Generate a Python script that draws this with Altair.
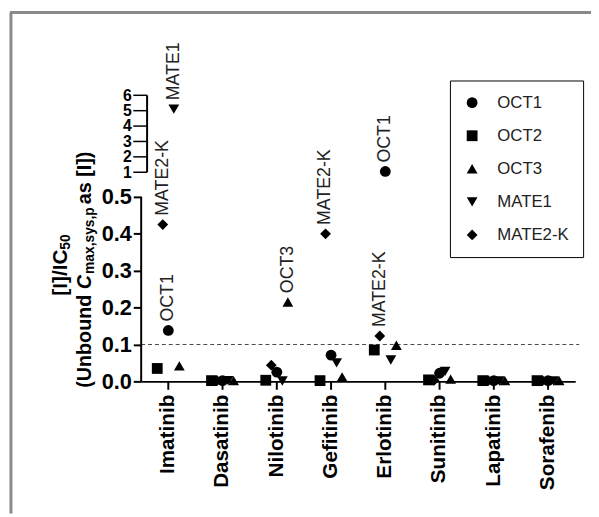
import altair as alt
import pandas as pd

# ---------------- data ----------------
drugs = ["Imatinib", "Dasatinib", "Nilotinib", "Gefitinib", "Erlotinib",
         "Sunitinib", "Lapatinib", "Sorafenib"]
series = ["OCT1", "OCT2", "OCT3", "MATE1", "MATE2-K"]
oct1 = [0.138, 0.002, 0.025, 0.071, 1.05, 0.022, 0.002, 0.002]
oct2 = [0.035, 0.002, 0.003, 0.002, 0.085, 0.004, 0.002, 0.002]
oct3 = [0.042, 0.002, 0.215, 0.012, 0.098, 0.006, 0.002, 0.002]
mate1 = [5.1, 0.002, 0.001, 0.050, 0.058, 0.027, 0.001, 0.001]
mate2k = [0.425, 0.002, 0.044, 0.400, 0.123, 0.003, 0.002, 0.002]
ann_drug = ["Imatinib", "Imatinib", "Imatinib", "Nilotinib", "Gefitinib", "Erlotinib", "Erlotinib"]
ann_series = ["MATE1", "MATE2-K", "OCT1", "OCT3", "MATE2-K", "OCT1", "MATE2-K"]
y_ticks = [0, 0.1, 0.2, 0.3, 0.4, 0.5, 1, 2, 3, 4, 5, 6]
upper_ticks = [1, 2, 3, 4, 5, 6]
threshold = [0.1]

rows = []
for s, vals in zip(series, [oct1, oct2, oct3, mate1, mate2k]):
    for d, v in zip(drugs, vals):
        rows.append({"drug": d, "series": s, "value": v})
df = pd.DataFrame(rows)
ann = df.merge(pd.DataFrame({"drug": ann_drug, "series": ann_series}), on=["drug", "series"])

# ---------------- layout ----------------
W, H = 440, 290
FONT = "Liberation Sans"
x_scale = alt.Scale(domain=drugs, paddingInner=0.4909, paddingOuter=0.24545)
xoff_scale = alt.Scale(domain=["OCT2", "MATE2-K", "OCT1", "MATE1", "OCT3"])
y_scale = alt.Scale(domain=[0, 0.5, 1, 6], range=[H, 103, 78, 0], nice=False, zero=False)

x_axis = alt.Axis(title=None, labelAngle=270, labelAlign="right", labelBaseline="middle",
                  labelFontSize=21, labelFontWeight="bold", labelFont=FONT, labelColor="black",
                  labelPadding=5, tickSize=8, tickWidth=2, tickColor="black",
                  domainWidth=2, domainColor="black", grid=False, labelOverlap=False)
y_axis = alt.Axis(title=None, values=y_ticks, domain=False, grid=False, labelOverlap=False,
                  labelExpr="datum.value >= 1 ? format(datum.value, 'd') : format(datum.value, '.1f')",
                  labelFontSize={"condition": {"test": "datum.value >= 1", "value": 16}, "value": 22},
                  labelFontWeight="bold", labelFont=FONT, labelColor="black", labelPadding=2,
                  tickSize=8, tickWidth=2, tickColor="black",
                  tickOpacity={"condition": {"test": "datum.value >= 1", "value": 0}, "value": 1})

X = alt.X("drug:N", scale=x_scale, axis=x_axis)
XO = alt.XOffset("series:N", scale=xoff_scale)
Y = alt.Y("value:Q", scale=y_scale, axis=y_axis)

points = alt.Chart(df).mark_point(filled=True, size=120, opacity=1, color="black").encode(
    x=X, xOffset=XO, y=Y,
    shape=alt.Shape("series:N",
                    scale=alt.Scale(domain=series,
                                    range=["circle", "square", "triangle-up", "triangle-down", "diamond"]),
                    legend=alt.Legend(title=None, orient="none", legendX=313, legendY=-15,
                                      strokeColor="black", fillColor="white", padding=14,
                                      rowPadding=15.5, labelFontSize=17, labelFont=FONT,
                                      labelColor="#222", labelOffset=17, symbolSize=120,
                                      symbolFillColor="black", symbolStrokeColor="black",
                                      symbolStrokeWidth=0))
)

labels = alt.Chart(ann).mark_text(angle=270, align="left", baseline="middle", dx=9,
                                   fontSize=18, font=FONT, color="#222").encode(
    x=X, xOffset=XO, y=Y, text="series:N")

dash = alt.Chart(pd.DataFrame({"value": threshold})).mark_rule(
    strokeDash=[4, 3], color="#444", strokeWidth=1).encode(
    y=Y, x=alt.value(0), x2=alt.value(W + 4))

low_seg = alt.Chart(pd.DataFrame({"value": [0], "value2": [0.5]})).mark_rule(
    color="black", strokeWidth=2).encode(y=Y, y2="value2:Q", x=alt.value(0))
up_seg = alt.Chart(pd.DataFrame({"value": [1], "value2": [6]})).mark_rule(
    color="black", strokeWidth=2).encode(y=Y, y2="value2:Q", x=alt.value(6))
up_ticks = alt.Chart(pd.DataFrame({"value": upper_ticks})).mark_rule(
    color="black", strokeWidth=1.5).encode(y=Y, x=alt.value(-8), x2=alt.value(6))

# frame lines of the figure
one = pd.DataFrame({"a": [0]})
frame_v = alt.Chart(one).mark_rule(color="#8a8a8a", strokeWidth=3).encode(
    x=alt.value(-132), y=alt.value(-84), y2=alt.value(424))
frame_h = alt.Chart(one).mark_rule(color="#8a8a8a", strokeWidth=3).encode(
    x=alt.value(-133), x2=alt.value(456), y=alt.value(-84))

# y-axis title with sub-scripts built from text runs (Arial-bold metrics)
BOLD = {"(": .333, ")": .333, "U": .722, "n": .611, "b": .611, "o": .611, "u": .611,
        "d": .611, " ": .278, "C": .722, "m": .889, "a": .556, "x": .556, ",": .278,
        "s": .556, "y": .556, "p": .611, "[": .333, "]": .333, "I": .278, "/": .278,
        "5": .556, "0": .556}


def wid(t, fs):
    return sum(BOLD.get(c, .6) for c in t) * fs


def title_line(runs, xc, yc):
    total = sum(wid(t, fs) + gap for t, fs, _, _, gap in runs)
    y = yc + total / 2
    out = []
    for t, fs, style, shift, gap in runs:
        out.append(alt.Chart(one).mark_text(angle=270, align="left", baseline="middle",
                                            fontSize=fs, fontWeight="bold", fontStyle=style,
                                            font=FONT, color="black").encode(
            text=alt.value(t), x=alt.value(xc + shift), y=alt.value(y)))
        y -= wid(t, fs) + gap
    return out


line1 = title_line([("[I]/IC", 21, "normal", 0, 0), ("50", 14, "normal", 5, 0)], -81, 172)
line2 = title_line([("(Unbound ", 20, "normal", 0, 0), ("C", 20, "italic", 0, 1),
                    ("max,sys,p", 14, "normal", 5, 3), (" as [I])", 20, "normal", 0, 0)], -57, 174)

chart = alt.layer(frame_v, frame_h, dash, low_seg, up_seg, up_ticks, points, labels,
                  *line1, *line2).properties(
    width=W, height=H,
    padding={"left": 135, "top": 85, "right": 16, "bottom": 134},
    autosize=alt.AutoSizeParams(type="none"),
).configure(font=FONT).configure_view(stroke=None)

chart.save("out.html", embed_options={"renderer": "svg", "actions": False})
